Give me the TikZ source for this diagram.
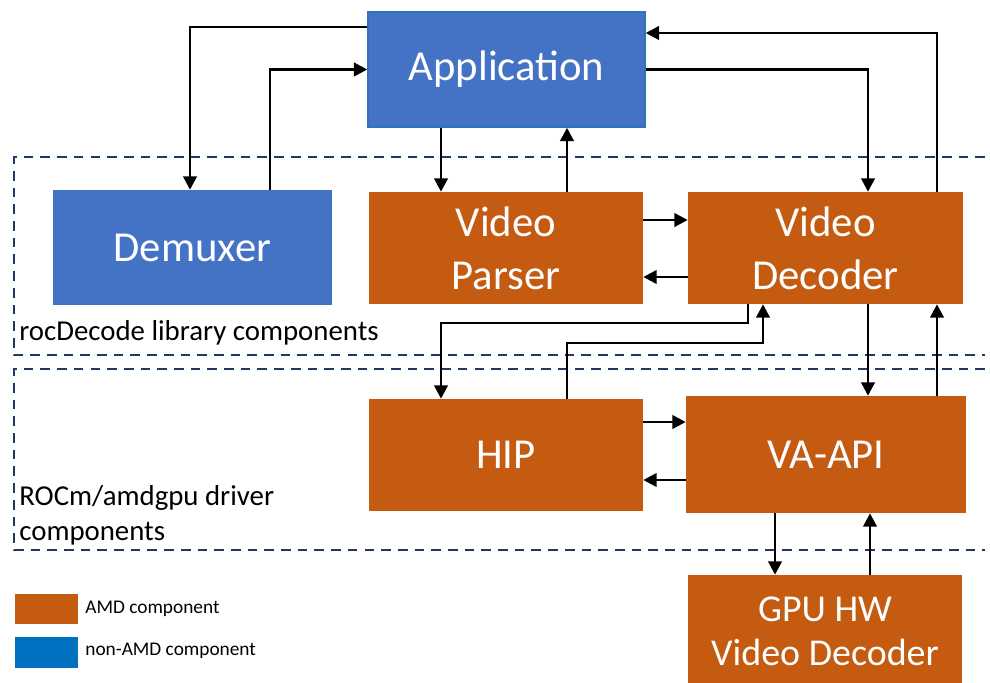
\documentclass[tikz,border=0pt]{standalone}
\usepackage{fontspec}
\setmainfont{Carlito}
\usepackage{tikz}
\usetikzlibrary{arrows.meta}

\definecolor{amdorange}{HTML}{C55A11}
\definecolor{appblue}{HTML}{4472C4}
\definecolor{appedge}{HTML}{2E75B6}
\definecolor{legblue}{HTML}{0070C0}
\definecolor{navy}{HTML}{203864}

\tikzset{
  amd/.style={fill=amdorange, text=white, inner sep=0pt, align=center,
    minimum width=5.48cm, minimum height=2.24cm,
    font=\fontsize{24.3}{30}\selectfont},
  nonamd/.style={amd, fill=appblue},
  arr/.style={-{Triangle[length=7.6pt,width=7.8pt]}, line width=1.2pt},
  region/.style={navy, line width=1.1pt, dash pattern=on 5.5pt off 4pt},
  legbox/.style={inner sep=0pt, minimum width=1.26cm, minimum height=0.6cm},
  legtext/.style={anchor=west, inner sep=0pt, font=\fontsize{11}{13}\selectfont}
}

\begin{document}
\begin{tikzpicture}[x=0.2mm, y=-0.2mm]
\clip (0,0) rectangle (990,682);

% regions
\draw[region] (985,157) -- (14,157) -- (14,355) -- (985,355);
\draw[region] (985,369) -- (14,369) -- (14,550) -- (985,550);
\node[anchor=west, inner sep=0pt, font=\fontsize{16.4}{20}\selectfont] (liblabel) at (19,333) {rocDecode library components};
\node[anchor=west, inner sep=0pt, align=left, font=\fontsize{16.4}{20}\selectfont] (drvlabel) at (19,515) {ROCm/amdgpu driver\\components};

% boxes
\node[nonamd, draw=appedge, line width=0.9pt, minimum width=5.54cm, minimum height=2.3cm] (app) at (506.5,69.5) {Application};
\node[nonamd, minimum width=5.58cm, minimum height=2.3cm] (demux) at (192.5,247.5) {Demuxer};
\node[amd] (parser) at (506,248) {Video\\Parser};
\node[amd, minimum width=5.5cm] (decoder) at (825.5,248) {Video\\Decoder};
\node[amd] (hip) at (506,455) {HIP};
\node[amd, minimum width=5.6cm, minimum height=2.34cm] (vaapi) at (826,454.5) {VA-API};
\node[amd, font=\fontsize{21.6}{25}\selectfont] (gpu) at (825,631) {GPU HW\\Video Decoder};

% application <-> library
\draw[arr] (app.west |- 0,27) -| (demux.north -| 190,0);
\draw[arr] (demux.north -| 270,0) |- (app.west);
\draw[arr] (app.south -| 441,0) -- (parser.north -| 441,0);
\draw[arr] (parser.north -| 567,0) -- (app.south -| 567,0);
\draw[arr] (app.east) -| (decoder.north -| 868,0);
\draw[arr] (decoder.north -| 937,0) |- (app.east |- 0,33);

% parser <-> decoder
\draw[arr] (parser.east |- 0,220) -- (decoder.west |- 0,220);
\draw[arr] (decoder.west |- 0,277) -- (parser.east |- 0,277);

% decoder <-> driver
\draw[arr] (decoder.south -| 748,0) -- ++(0,19) -| (hip.north -| 441,0);
\draw[arr] (hip.north -| 567,0) -- ++(0,-56) -| (decoder.south -| 763,0);
\draw[arr] (decoder.south -| 868,0) -- (vaapi.north -| 868,0);
\draw[arr] (vaapi.north -| 937,0) -- (decoder.south -| 937,0);

% hip <-> va-api
\draw[arr] (hip.east |- 0,422) -- (vaapi.west |- 0,422);
\draw[arr] (vaapi.west |- 0,480) -- (hip.east |- 0,480);

% va-api <-> hw
\draw[arr] (vaapi.south -| 775,0) -- (gpu.north -| 775,0);
\draw[arr] (gpu.north -| 870,0) -- (vaapi.south -| 870,0);

% legend
\node[legbox, fill=amdorange] (amdkey) at (46.5,609) {};
\node[legtext] (amdtext) at (85,609) {AMD component};
\node[legbox, fill=legblue, minimum height=0.62cm] (nonamdkey) at (46.5,652.5) {};
\node[legtext] (nonamdtext) at (85,651) {non-AMD component};
\end{tikzpicture}
\end{document}
